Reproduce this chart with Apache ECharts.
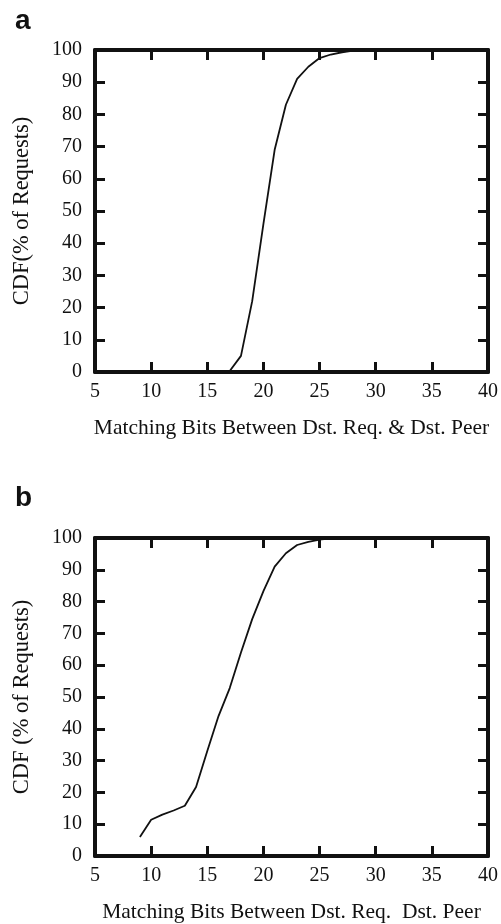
<!DOCTYPE html>
<html>
<head>
<meta charset="utf-8">
<script src="https://cdn.jsdelivr.net/npm/echarts@6/dist/echarts.min.js"></script>
<style>
html,body{margin:0;padding:0;background:#fff;}
#chart{width:501px;height:924px;}
</style>
</head>
<body>
<div id="chart"></div>
<script>
// Panel a data: matching bits vs CDF (%)
const bitsA = [16, 17, 18, 19, 20, 21, 22, 23, 24, 25, 26, 27, 28, 29];
const cdfA  = [0, 0.3, 5, 22, 46, 69, 83, 91, 94.8, 97.5, 98.6, 99.3, 99.8, 100];
// Panel b data
const bitsB = [9, 10, 11, 12, 13, 14, 15, 16, 17, 18, 19, 20, 21, 22, 23, 24, 25, 26, 27];
const cdfB  = [6, 11.4, 13, 14.3, 15.8, 21.7, 33, 44, 52.8, 64, 74.5, 83.3, 91, 95.2, 97.8, 98.8, 99.5, 99.9, 100];
const xTicks = [5, 10, 15, 20, 25, 30, 35, 40];
const yTicks = [0, 10, 20, 30, 40, 50, 60, 70, 80, 90, 100];
const xNameA = 'Matching Bits Between Dst. Req. & Dst. Peer';
const xNameB = 'Matching Bits Between Dst. Req.  Dst. Peer';
const yNameA = 'CDF(% of Requests)';
const yNameB = 'CDF (% of Requests)';

const SERIF = '"Liberation Serif", "DejaVu Serif", serif';
const INK = '#111';
const lineStyle = {color: INK, width: 4};
const tickStyle = {color: INK, width: 3};

function xAx(gi, pos, name) {
  return {
    type: 'value', gridIndex: gi, position: pos,
    min: xTicks[0], max: xTicks[xTicks.length - 1], interval: 5,
    axisLine: {show: true, onZero: false, lineStyle: lineStyle},
    axisTick: {show: true, inside: true, length: 10, lineStyle: tickStyle},
    axisLabel: {show: pos === 'bottom', margin: 10, fontFamily: SERIF, fontSize: 20, color: INK},
    splitLine: {show: false},
    name: pos === 'bottom' ? name : '',
    nameLocation: 'middle', nameGap: 45,
    nameTextStyle: {fontFamily: SERIF, fontSize: 21.5, color: INK}
  };
}
function yAx(gi, pos, name) {
  return {
    type: 'value', gridIndex: gi, position: pos,
    min: yTicks[0], max: yTicks[yTicks.length - 1], interval: 10,
    axisLine: {show: true, onZero: false, lineStyle: lineStyle},
    axisTick: {show: true, inside: true, length: 10, lineStyle: tickStyle},
    axisLabel: {show: pos === 'left', margin: 13, fontFamily: SERIF, fontSize: 20, color: INK},
    splitLine: {show: false},
    name: pos === 'left' ? name : '',
    nameLocation: 'middle', nameGap: 61,
    nameTextStyle: {fontFamily: SERIF, fontSize: 22.5, color: INK}
  };
}

const chart = echarts.init(document.getElementById('chart'), null, {renderer: 'canvas'});
chart.setOption({
  backgroundColor: '#fff',
  animation: false,
  title: [
    {text: 'a', left: 10, top: 2, textStyle: {fontFamily: '"Liberation Sans", Arial, sans-serif', fontWeight: 'bold', fontSize: 28, color: INK}},
    {text: 'b', left: 10, top: 479, textStyle: {fontFamily: '"Liberation Sans", Arial, sans-serif', fontWeight: 'bold', fontSize: 28, color: INK}}
  ],
  grid: [
    {left: 95, width: 394, top: 50, height: 322},
    {left: 95, width: 394, top: 538, height: 322}
  ],
  xAxis: [xAx(0, 'bottom', xNameA), xAx(0, 'top', ''), xAx(1, 'bottom', xNameB), xAx(1, 'top', '')],
  yAxis: [yAx(0, 'left', yNameA), yAx(0, 'right', ''), yAx(1, 'left', yNameB), yAx(1, 'right', '')],
  series: [
    {type: 'line', xAxisIndex: 0, yAxisIndex: 0, data: bitsA.map((b, i) => [b, cdfA[i]]),
     showSymbol: false, lineStyle: {color: INK, width: 1.8}, z: 1},
    {type: 'line', xAxisIndex: 2, yAxisIndex: 2, data: bitsB.map((b, i) => [b, cdfB[i]]),
     showSymbol: false, lineStyle: {color: INK, width: 1.8}, z: 1}
  ]
});
</script>
</body>
</html>
